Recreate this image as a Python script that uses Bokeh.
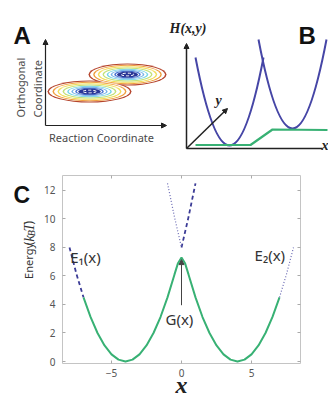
import math
from bokeh.plotting import figure
from bokeh.models import Range1d, Label, Arrow, NormalHead, LinearAxis, FixedTicker
from bokeh.layouts import column, row
from bokeh.embed import file_html
from bokeh.resources import INLINE

# ---------------- Panel A : contour sketch (schematic units) ----------------
well_x = [89, 127]
well_y = [69, 86]
well_w = [84, 78]
well_h = [22, 22]
ring_colors = ["#b5442c", "#f0a040", "#f2de5a", "#c2e27a", "#72d4e6", "#78b4ea", "#4a74d2"]
ring_scales = [1.0, 0.88, 0.76, 0.64, 0.53, 0.43, 0.34]
core_color = "#2a3696"
core_scale = 0.27
axisA_origin = (45, 35)
axisA_top = 121
axisA_right = 166

# ---------------- Panel B : energy surfaces sketch ----------------
para_x0 = [195, 258]
para_y0 = [103, 121]
para_x1 = [263, 326]
para_y1 = [103, 121]
para_cx = [229, 292]
para_cy = [-73, -57]
green_x = [195, 250, 272, 327]
green_y = [15.5, 15.5, 31, 30.5]
axisB_origin = (186, 12)
axisB_top = 117
axisB_right = 322
axisB_diag = (227, 52)

# ---------------- Panel C : energies vs x ----------------
G_x = [-7, -6.5, -6, -5.5, -5, -4.5, -4, -3.5, -3, -2.5, -2, -1.5, -1, -0.5, -0.25,
       0, 0.25, 0.5, 1, 1.5, 2, 2.5, 3, 3.5, 4, 4.5, 5, 5.5, 6, 6.5, 7]
G_y = [4.5, 3.13, 2.0, 1.13, 0.5, 0.13, 0.0, 0.13, 0.5, 1.13, 2.0, 3.12, 4.5, 6.11, 6.9,
       7.3, 6.9, 6.11, 4.5, 3.12, 2.0, 1.13, 0.5, 0.13, 0.0, 0.13, 0.5, 1.13, 2.0, 3.13, 4.5]
E1_left_x = [-8, -7.5, -7]
E1_left_y = [8, 6.13, 4.5]
E1_right_x = [0, 0.5, 1.0]
E1_right_y = [8, 10.13, 12.5]
E2_left_x = [-1.0, -0.5, 0]
E2_left_y = [12.5, 10.13, 8]
E2_right_x = [7, 7.5, 8]
E2_right_y = [4.5, 6.13, 8]
x_ticks = [-5, 0, 5]
y_ticks = [0, 2, 4, 6, 8, 10, 12]

SANS = "Noto Sans"
BOLD = "Liberation Sans"
SERIF = "Liberation Serif"
GREEN = "#38b174"
NAVY = "#3b3b96"


def blank(width, height, x0, x1, y1=160):
    p = figure(width=width, height=height, x_range=Range1d(x0, x1), y_range=Range1d(0, y1),
               output_backend="svg", toolbar_location=None, min_border=0,
               x_axis_location=None, y_axis_location=None)
    p.outline_line_color = None
    p.grid.visible = False
    return p


# ---------- A ----------
pa = blank(167, 160, 0, 167)
for c, s in zip(ring_colors, ring_scales):
    pa.ellipse(x=well_x, y=well_y, width=[w * s for w in well_w], height=[h * s for h in well_h],
               fill_color=c, line_color=None)
    pa.ellipse(x=well_x, y=well_y, width=[w * s - 3 for w in well_w], height=[h * s - 2 for h in well_h],
               fill_color="white", line_color=None)
pa.ellipse(x=well_x, y=well_y, width=[w * core_scale for w in well_w], height=[h * core_scale for h in well_h],
           fill_color=core_color, line_color=None)
pa.ellipse(x=well_x, y=well_y, width=[w * core_scale * 0.6 for w in well_w], height=[h * core_scale * 0.45 for h in well_h],
           fill_color=None, line_color="white", line_width=1, line_dash="3 2")
ox, oy = axisA_origin
pa.add_layout(Arrow(x_start=ox, y_start=oy, x_end=ox, y_end=axisA_top, line_color="#222", line_width=1.2,
                    end=NormalHead(size=5, fill_color="#222", line_color="#222")))
pa.add_layout(Arrow(x_start=ox, y_start=oy, x_end=axisA_right, y_end=oy, line_color="#222", line_width=1.2,
                    end=NormalHead(size=5, fill_color="#222", line_color="#222")))
pa.add_layout(Label(x=13, y=125, text="A", text_font=BOLD, text_font_style="bold", text_font_size="24px",
                    text_color="#111", text_baseline="alphabetic"))
for xx, t in [(20, "Orthogonal"), (37, "Coordinate")]:
    pa.add_layout(Label(x=xx, y=43, text=t, angle=math.pi / 2, text_font=SANS, text_font_size="11px",
                        text_color="#4a4a4a", text_align="left", text_baseline="middle"))
pa.add_layout(Label(x=101, y=23, text="Reaction Coordinate", text_font=SANS, text_font_size="11px",
                    text_color="#4a4a4a", text_align="center", text_baseline="middle"))

# ---------- B ----------
pb = blank(161, 160, 167, 328)
pb.quadratic(x0=para_x0, y0=para_y0, x1=para_x1, y1=para_y1, cx=para_cx, cy=para_cy,
             line_color="#4646a6", line_width=2)
pb.line(green_x, green_y, line_color=GREEN, line_width=2.2)
bx, by = axisB_origin
for xe, ye in [(bx, axisB_top), axisB_diag]:
    pb.add_layout(Arrow(x_start=bx, y_start=by, x_end=xe, y_end=ye, line_color="#222", line_width=1.5,
                        end=NormalHead(size=5, fill_color="#222", line_color="#222")))
pb.line([bx, axisB_right], [by, by], line_color="#222", line_width=1.5)
pb.add_layout(Label(x=169, y=132, text="H(x,y)", text_font=SERIF, text_font_style="bold italic",
                    text_font_size="14px", text_color="#222", text_baseline="middle"))
pb.add_layout(Label(x=298, y=125, text="B", text_font=BOLD, text_font_style="bold", text_font_size="24px",
                    text_color="#111", text_baseline="alphabetic"))
pb.add_layout(Label(x=218, y=60, text="y", text_font=SERIF, text_font_style="bold italic",
                    text_font_size="14px", text_color="#222", text_align="center", text_baseline="middle"))
pb.add_layout(Label(x=321, y=15, text="x", text_font=SERIF, text_font_style="bold italic",
                    text_font_size="14px", text_color="#222", text_align="left", text_baseline="middle"))

# ---------- C : side strip with panel letter and y label ----------
pl = blank(38, 240, 0, 38, y1=240)
pl.add_layout(Label(x=13, y=215, text="C", text_font=BOLD, text_font_style="bold", text_font_size="23px",
                    text_color="#111", text_baseline="alphabetic"))
# pieces of "Energy (k_B T)": text, offset along label, sideways offset, font, style, size
ylab = [("Energy", 0, 0, SANS, "normal", "11px"),
        ("(", 43, 0, SANS, "normal", "12px"),
        ("k", 47.5, 0, SERIF, "italic", "15px"),
        ("B", 54.5, 3, SERIF, "italic", "10px"),
        ("T", 60.5, 0, SERIF, "italic", "15px"),
        (")", 69.5, 0, SANS, "normal", "12px")]
for t, dy, dx, f, st, sz in ylab:
    pl.add_layout(Label(x=28 + dx, y=108 + dy, text=t, angle=math.pi / 2,
                        text_font=f, text_font_style=st, text_font_size=sz, text_color="#333",
                        text_align="left", text_baseline="middle"))

# ---------- C : plot ----------
pc = figure(width=290, height=240, x_range=Range1d(-8.5, 8.5), y_range=Range1d(-0.14, 13.05),
            output_backend="svg", toolbar_location=None,
            min_border_left=24, min_border_right=28, min_border_top=15, min_border_bottom=37)
pc.grid.visible = False
pc.outline_line_color = "#c4c4c4"
pc.outline_line_width = 1
pc.xaxis.ticker = FixedTicker(ticks=x_ticks)
pc.yaxis.ticker = FixedTicker(ticks=y_ticks)
pc.add_layout(LinearAxis(ticker=FixedTicker(ticks=y_ticks)), "right")
pc.add_layout(LinearAxis(ticker=FixedTicker(ticks=x_ticks)), "above")
for ax in pc.axis:
    ax.axis_line_color = None
    ax.major_tick_in = 3
    ax.major_tick_out = 0
    ax.major_tick_line_color = "#aaaaaa"
    ax.minor_tick_line_color = None
    ax.major_label_text_font = SANS
    ax.major_label_text_font_size = "10px"
    ax.major_label_text_color = "#555555"
pc.right[0].major_label_text_color = None
pc.above[0].major_label_text_color = None
pc.yaxis[0].major_label_standoff = 7
xa = pc.below[0]
xa.major_label_standoff = 5
xa.axis_label = "x"
xa.axis_label_text_font = SERIF
xa.axis_label_text_font_style = "bold italic"
xa.axis_label_text_font_size = "24px"
xa.axis_label_text_color = "#222"
xa.axis_label_standoff = -8

pc.line(G_x, G_y, line_color=GREEN, line_width=2)
for xs, ys in [(E1_left_x, E1_left_y), (E1_right_x, E1_right_y)]:
    pc.line(xs, ys, line_color=NAVY, line_width=1.8, line_dash="4 3")
for xs, ys in [(E2_left_x, E2_left_y), (E2_right_x, E2_right_y)]:
    pc.line(xs, ys, line_color="#6a6ab4", line_width=1.2, line_dash="1 2")
pc.add_layout(Arrow(x_start=0, y_start=3.95, x_end=0, y_end=7.15, line_color="#444", line_width=1,
                    end=NormalHead(size=5, fill_color="#444", line_color="#444")))
pc.add_layout(Label(x=-7.95, y=7.35, text="E\u2081(x)", text_font=SANS, text_font_size="15px",
                    text_color="#333", text_align="left", text_baseline="middle"))
pc.add_layout(Label(x=7.4, y=7.45, text="E\u2082(x)", text_font=SANS, text_font_size="15px",
                    text_color="#333", text_align="right", text_baseline="middle"))
pc.add_layout(Label(x=-0.15, y=3.0, text="G(x)", text_font=SANS, text_font_size="15px",
                    text_color="#333", text_align="center", text_baseline="middle"))

layout = column(row(pa, pb, spacing=0), row(pl, pc, spacing=0), spacing=0)
open("out.html", "w").write(file_html(layout, INLINE))
